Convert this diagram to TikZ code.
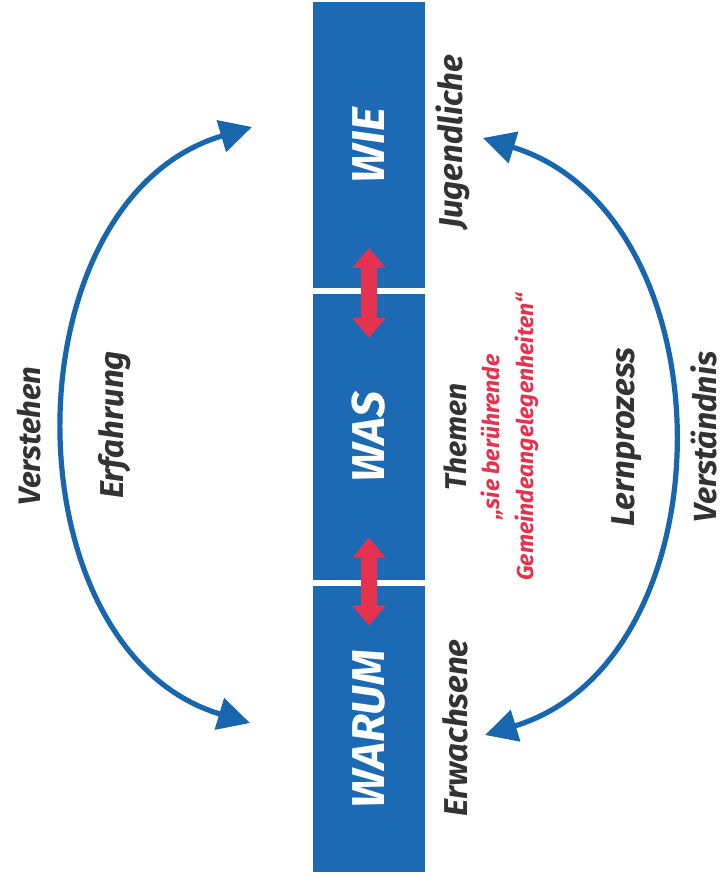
\documentclass[tikz,border=0pt]{standalone}
\usepackage{fontspec}
\setmainfont{Fira Sans}
\usepackage{graphicx}
\usetikzlibrary{arrows.meta,calc,positioning}
\definecolor{barblue}{HTML}{1D6AB4}
\definecolor{arcblue}{HTML}{1766AE}
\definecolor{signred}{HTML}{E5334F}
\definecolor{textgray}{HTML}{333333}
\begin{document}
\begin{tikzpicture}[x=0.5pt,y=-0.5pt,
  seg/.style={fill=barblue,minimum width=56pt,minimum height=143pt,inner sep=0pt,text=white,
    font=\bfseries\itshape\fontsize{23}{23}\selectfont},
  lbl/.style={rotate=90,inner sep=0pt,text=textgray,font=\bfseries\itshape\fontsize{16.5}{16.5}\selectfont},
  quote/.style={rotate=90,inner sep=0pt,align=center,text=signred,
    font=\bfseries\itshape\fontsize{11.5}{17}\selectfont},
  dbl/.style={signred,line width=8pt,{Triangle[length=10pt,width=16pt]}-{Triangle[length=10pt,width=16pt]}},
  arc/.style={arcblue,line width=2.6pt,{Triangle[length=16pt,width=16pt]}-{Triangle[length=16pt,width=16pt]}}]
  \path[use as bounding box,fill=white] (0,0) rectangle (726,886);
  % bar
  \node[seg] (wie) at (369,145.5) {\rotatebox{90}{WIE}};
  \node[seg,below=2.5pt of wie] (was) {\rotatebox{90}{WAS}};
  \node[seg,below=2.5pt of was] (warum) {\rotatebox{90}{WARUM}};
  \draw[dbl] ($(wie.south)+(0,-41)$) -- ($(was.north)+(0,44)$);
  \draw[dbl] ($(was.south)+(0,-43)$) -- ($(warum.north)+(0,40)$);
  % labels
  \node[lbl] (jugend) at (453,142) {Jugendliche};
  \node[lbl,font=\bfseries\itshape\fontsize{15}{15}\selectfont] (themen) at (455,437) {Themen};
  \node[quote] (gemeinde) at (510,437) {„sie berührende\\Gemeindeangelegenheiten“};
  \node[lbl] (erwachsene) at (455,728) {Erwachsene};
  \node[lbl] (lern) at (627,437) {Lernprozess};
  \node[lbl,font=\bfseries\itshape\fontsize{16}{16}\selectfont] (verstaendnis) at (704,437) {Verständnis};
  \node[lbl,font=\bfseries\itshape\fontsize{15.5}{15.5}\selectfont] (verstehen) at (29,436) {Verstehen};
  \node[lbl] (erfahrung) at (115,425) {Erfahrung};
  % arcs
  \coordinate (ltop) at (252,127);
  \coordinate (lbot) at (250,723);
  \coordinate (rtop) at (483,138);
  \coordinate (rbot) at (485,735);
  \draw[arc] (ltop) .. controls (6,200) and (6,650) .. (lbot);
  \draw[arc] (rtop) .. controls (732,215) and (732,660) .. (rbot);
\end{tikzpicture}
\end{document}
